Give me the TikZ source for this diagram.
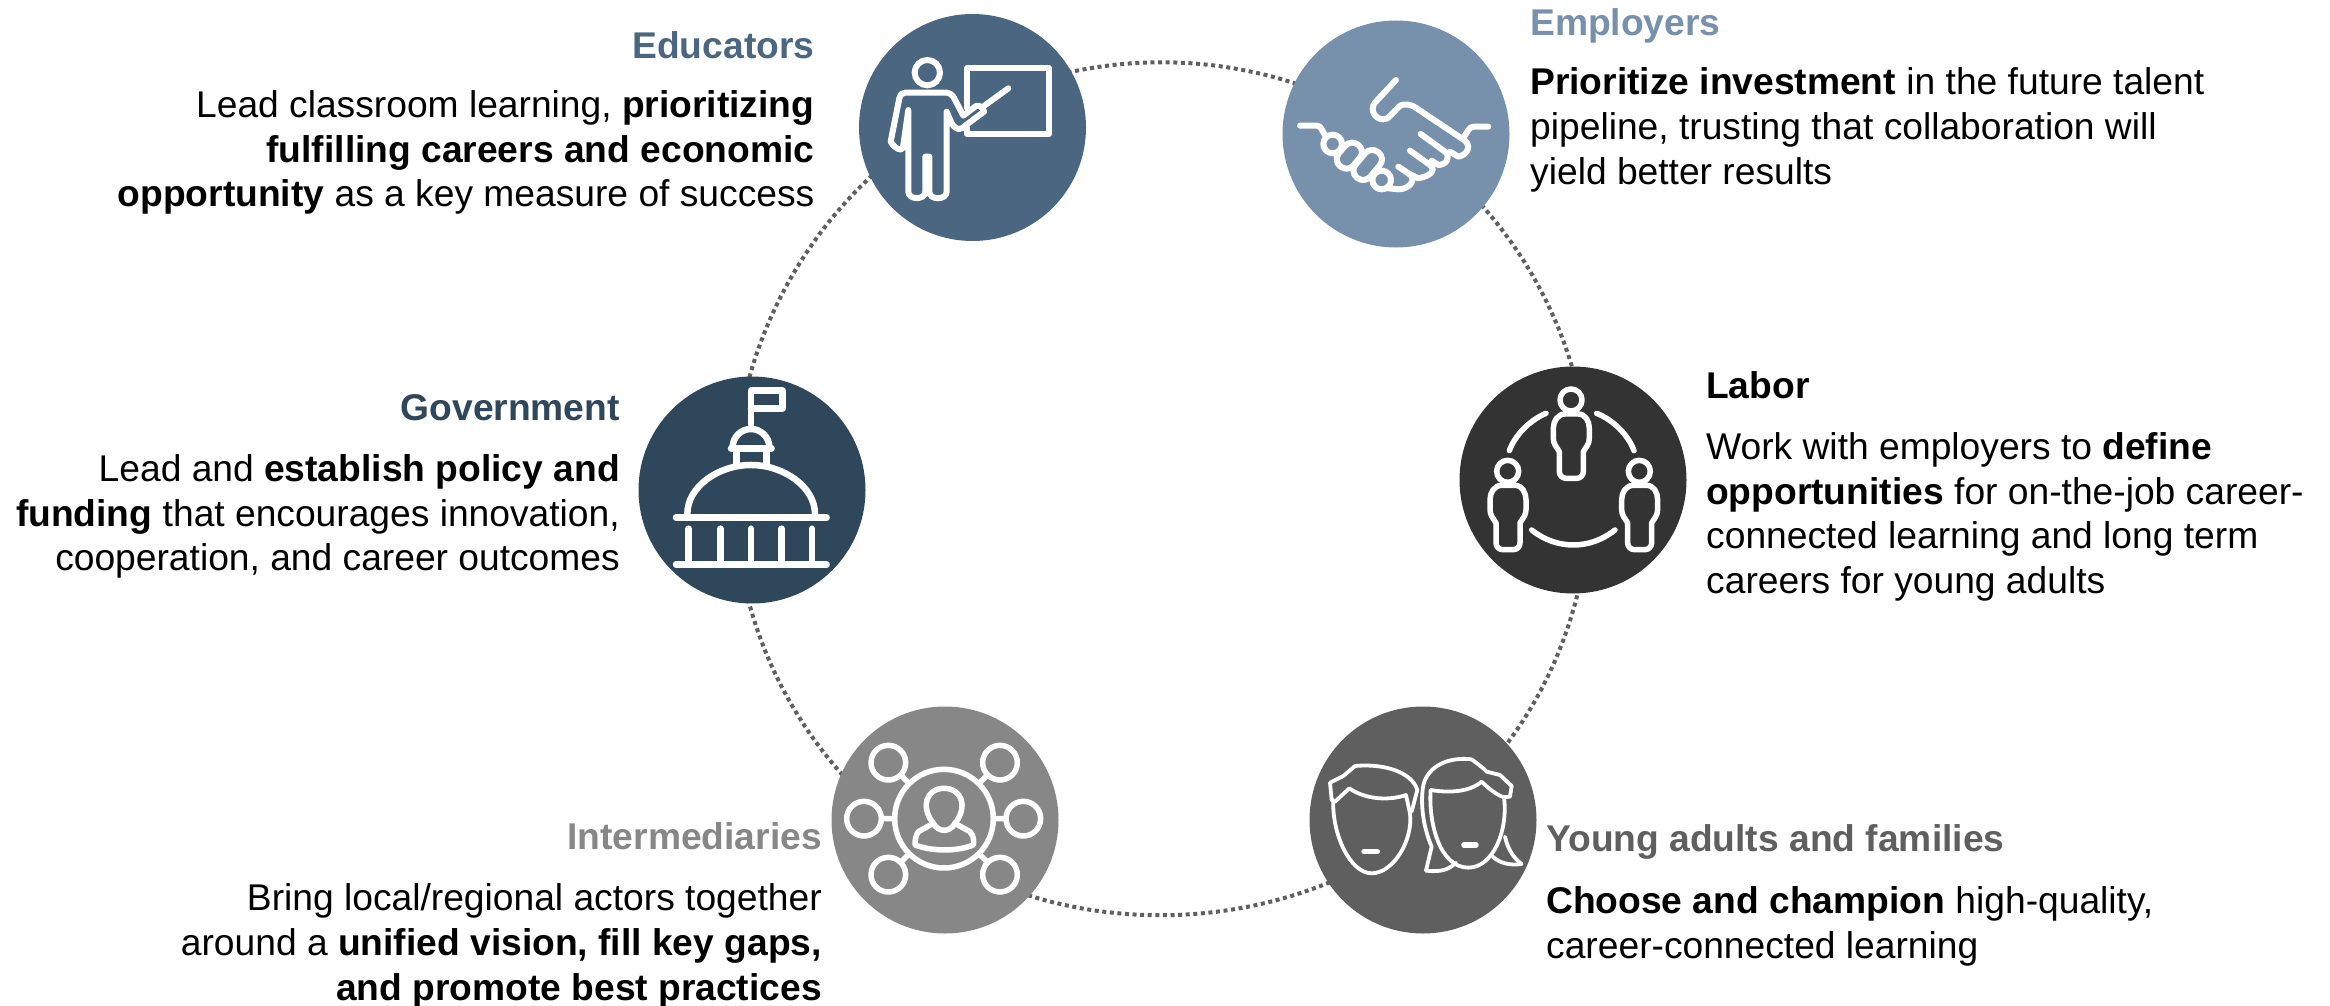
\documentclass[tikz,border=0pt]{standalone}
\usepackage{fontspec}
\setmainfont{Liberation Sans}
\definecolor{edublue}{HTML}{4A6680}
\definecolor{empblue}{HTML}{7791AD}
\definecolor{govblue}{HTML}{2E475B}
\definecolor{labgray}{HTML}{333333}
\definecolor{yngray}{HTML}{5F5F5F}
\definecolor{intgray}{HTML}{878787}
\tikzset{
  ringline/.style={draw=yngray, line width=4pt, dash pattern=on 4pt off 3.6pt},
  bubble/.style={circle, inner sep=0pt, minimum size=227pt},
  icon/.style={draw=white, line width=#1, line join=round, line cap=round},
  icon/.default=6pt,
  zoomed/.style={x=.3333pt, y=-.3333pt},
  titletext/.style={inner sep=0pt, font=\fontsize{37.2}{44.6}\selectfont\bfseries},
  bodyleft/.style={inner sep=0pt, anchor=north west, align=left, font=\fontsize{37.2}{44.6}\selectfont},
  bodyright/.style={inner sep=0pt, anchor=north east, align=right, font=\fontsize{37.2}{44.6}\selectfont},
}
\begin{document}
\begin{tikzpicture}[x=1pt, y=-1pt]
\useasboundingbox (0,0) rectangle (2330,1006);
% points of the ring, hidden under the bubbles
\coordinate (edu-pt) at (961,112);
\coordinate (emp-pt) at (1395,131);
\coordinate (lab-pt) at (1590,490);
\coordinate (yng-pt) at (1428,825);
\coordinate (int-pt) at (929,849);
\coordinate (gov-pt) at (734,490);
\foreach \from/\to/\bnd in {edu/emp/30.5, emp/lab/28.5, lab/yng/25.8, yng/int/35.7, int/gov/28.5, gov/edu/31}
  \draw[ringline] (\from-pt) to[bend left=\bnd, looseness=.91] (\to-pt);
% bubbles
\node[bubble, fill=edublue] (edu) at (972.5,127.5) {};
\node[bubble, fill=empblue] (emp) at (1396,134) {};
\node[bubble, fill=govblue] (gov) at (752,490) {};
\node[bubble, fill=labgray] (lab) at (1573,480) {};
\node[bubble, fill=yngray] (yng) at (1423,820) {};
\node[bubble, fill=intgray] (int) at (945,820) {};
% educator
\begin{scope}[shift={(840,0)}, zoomed, icon]
\draw (262,218) circle (38);
\draw (205,330) -- (190,435) to[out=-90,in=-60,looseness=1.6] (152,425) -- (178,295) to[out=90,in=180] (195,278) -- (320,278) to[out=0,in=130] (340,290) -- (370,347) -- (408,318) to[out=20,in=100] (432,335) -- (365,385) to[out=-150,in=-60] (335,370) -- (320,335) -- (320,575) to[out=-90,in=-90,looseness=1.3] (268,575) -- (268,470) -- (256,470) -- (256,575) to[out=-90,in=-90,looseness=1.3] (205,575) -- cycle;
\draw (432,318) -- (505,265);
\draw (382,325) -- (382,204) -- (627,204) -- (627,402) -- (382,402) -- (382,385);
\end{scope}
% handshake
\begin{scope}[shift={(1270,10)}, zoomed, icon]
\draw (655,350) -- (612,350) to[out=180,in=50] (582,380);
\draw (90,347) -- (140,347) to[out=0,in=130] (165,375);
\draw (378,210) -- (315,278) to[out=-130,in=180,looseness=1.2] (340,328) to[out=0,in=-130] (360,318) -- (385,292) to[out=50,in=170] (420,285) to[out=-10,in=150] (440,295) -- (585,392) to[out=-40,in=10,looseness=1.3] (565,440) -- (540,425);
\draw (452,372) -- (525,425) to[out=-40,in=0,looseness=1.4] (505,465) -- (485,452);
\draw (420,422) -- (480,465) to[out=-40,in=10,looseness=1.4] (445,505) -- (415,490);
\draw (385,470) -- (415,490) to[out=-30,in=0,looseness=1.5] (385,538) -- (355,535);
\draw (188,402) circle (28);
\draw (335,510) circle (28);
\draw[rounded corners=9pt] (287,423) -- (243,387) -- (189,451) -- (233,487) -- cycle;
\draw[rounded corners=9pt] (347,445) -- (303,409) -- (239,485) -- (283,521) -- cycle;
\end{scope}
% capitol
\begin{scope}[shift={(630,370)}, zoomed, icon=6.5pt]
\draw (363,165) -- (363,62) -- (458,62) -- (458,115) -- (363,115);
\draw (308,232) to[out=90,in=180] (363,177) to[out=0,in=90] (418,232);
\draw (303,235) -- (425,235);
\draw (320,235) -- (320,285) (410,235) -- (410,285);
\draw (172,432) .. controls (172,350) and (265,285) .. (363,285) .. controls (460,285) and (555,350) .. (555,432);
\draw (138,443) -- (590,443);
\draw (138,584) -- (590,584);
\foreach \colx in {176,271,363,455,546}
  \draw (\colx,476) -- (\colx,584);
\end{scope}
% three people
\begin{scope}[shift={(1450,360)}, zoomed, icon=5.5pt]
\foreach \dx/\dy in {0/0,-190/214,205/214}
  \draw[shift={(\dx,\dy)}] (363,120) circle (33)
    (345,162) to[out=180,in=90] (310,205) -- (310,235) to[out=-90,in=120] (328,275) -- (328,335) to[out=-90,in=180] (348,355) -- (380,355) to[out=0,in=-90] (400,335) -- (400,275) to[out=60,in=-90] (418,235) -- (418,205) to[out=90,in=0] (385,162) -- cycle;
\draw (178,272) .. controls (195,225) and (240,180) .. (288,160);
\draw (440,160) .. controls (490,180) and (535,225) .. (552,272);
\draw (245,510) .. controls (320,570) and (420,570) .. (495,510);
\end{scope}
% faces
\begin{scope}[shift={(1300,700)}, zoomed, icon=3.8pt]
\draw (90,248) -- (130,228) -- (165,198) .. controls (250,190) and (335,215) .. (352,270) -- (335,335);
\draw (90,248) -- (95,300) -- (105,305) -- (148,265) .. controls (190,295) and (260,305) .. (318,285) -- (330,340);
\draw (100,300) .. controls (95,400) and (150,520) .. (215,520) .. controls (280,520) and (340,420) .. (330,340);
\draw (378,512) .. controls (430,518) and (450,505) .. (468,488);
\draw (378,512) -- (395,440) .. controls (365,370) and (362,300) .. (370,255) .. controls (385,195) and (450,170) .. (515,178) -- (550,205) -- (560,215) -- (600,225) -- (635,258) -- (630,290) -- (610,292);
\draw (392,270) .. controls (450,280) and (510,275) .. (545,245) .. controls (565,265) and (590,285) .. (612,292);
\draw (392,270) .. controls (385,370) and (420,503) .. (505,503) .. controls (580,503) and (625,390) .. (612,292);
\draw (665,492) .. controls (635,470) and (622,440) .. (615,410);
\draw (665,492) .. controls (630,497) and (600,490) .. (578,470);
\draw[line width=5.5pt] (192,455) -- (232,455);
\draw[line width=5.5pt] (492,435) -- (528,435);
\end{scope}
% network
\begin{scope}[shift={(820,700)}, zoomed, icon=5.5pt]
\draw (372,356) circle (148);
\foreach \satx/\saty/\spkx/\spky/\spex/\spey in {205/188/243/226/267/250, 540/188/502/226/477/250, 132/356/184/356/224/356, 610/356/558/356/520/356, 205/524/243/486/267/462, 540/524/502/486/477/462}
  \draw (\satx,\saty) circle (52) (\spkx,\spky) -- (\spex,\spey);
\draw (340,370) .. controls (300,320) and (320,265) .. (372,265) .. controls (425,265) and (445,320) .. (405,370);
\draw (340,370) .. controls (355,398) and (390,398) .. (405,370);
\draw (340,370) -- (295,395) .. controls (285,410) and (285,425) .. (285,435) .. controls (340,455) and (410,455) .. (460,435) .. controls (462,420) and (462,410) .. (450,395) -- (405,370);
\end{scope}
% captions
\node[titletext, anchor=base east, text=edublue] (edu-title) at (814.5,59) {Educators};
\node[bodyright] (edu-text) at (814.5,86) {\strut Lead classroom learning, \textbf{prioritizing}\\\textbf{fulfilling careers and economic}\\\textbf{opportunity} as a key measure of success};
\node[titletext, anchor=base west, text=empblue] (emp-title) at (1530,36) {Employers};
\node[bodyleft] (emp-text) at (1530,63.5) {\strut\textbf{Prioritize investment} in the future talent\\pipeline, trusting that collaboration will\\yield better results};
\node[titletext, anchor=base east, text=govblue] (gov-title) at (620,420) {Government};
\node[bodyright] (gov-text) at (620,450) {\strut Lead and \textbf{establish policy and}\\\textbf{funding} that encourages innovation,\\cooperation, and career outcomes};
\node[titletext, anchor=base west] (lab-title) at (1706,398) {Labor};
\node[bodyleft] (lab-text) at (1706,428) {\strut Work with employers to \textbf{define}\\\textbf{opportunities} for on-the-job career-\\connected learning and long term\\careers for young adults};
\node[titletext, anchor=base west, text=yngray] (yng-title) at (1546,851.5) {Young adults and families};
\node[bodyleft] (yng-text) at (1546,882) {\strut\textbf{Choose and champion} high-quality,\\career-connected learning};
\node[titletext, anchor=base east, text=intgray] (int-title) at (822,849.5) {Intermediaries};
\node[bodyright] (int-text) at (822,879.5) {\strut Bring local/regional actors together\\around a \textbf{unified vision, fill key gaps,}\\\textbf{and promote best practices}};
\end{tikzpicture}
\end{document}
